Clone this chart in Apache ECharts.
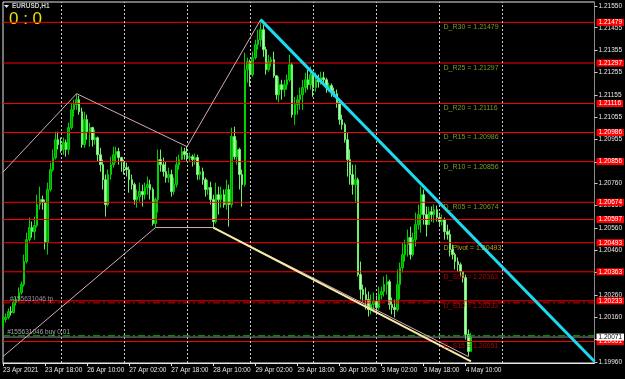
<!DOCTYPE html>
<html><head><meta charset="utf-8">
<script src="https://cdn.jsdelivr.net/npm/echarts@6/dist/echarts.min.js"></script>
<style>html,body{margin:0;padding:0;background:#000;}#c{width:625px;height:379px;}</style>
</head><body><div id="c"></div>
<script>
const symbolName = 'EURUSD,H1';
const scoreText = '0 : 0';
const tickLabels = ['23 Apr 2021','23 Apr 18:00','26 Apr 10:00','27 Apr 02:00','27 Apr 18:00','28 Apr 10:00','29 Apr 02:00','29 Apr 18:00','30 Apr 10:00','3 May 02:00','3 May 18:00','4 May 10:00'];
const labelEvery = 16;
const slotCount = 226;
const dayStartIdx = [22,46,70,94,118,142,166,190];
const priceTicks = [1.21550,1.21455,1.21355,1.21255,1.21155,1.21055,1.20955,1.20855,1.20760,1.20660,1.20560,1.20460,1.20360,1.20260,1.20160,1.20060,1.19960];
// [open, close, low, high]
const ohlc = [
[1.20123,1.20150,1.20114,1.20163],[1.20150,1.20159,1.20136,1.20176],[1.20159,1.20185,1.20150,1.20199],[1.20185,1.20181,1.20167,1.20208],
[1.20181,1.20226,1.20176,1.20243],[1.20226,1.20239,1.20212,1.20252],[1.20239,1.20270,1.20230,1.20293],[1.20270,1.20306,1.20261,1.20319],
[1.20306,1.20409,1.20297,1.20440],[1.20409,1.20507,1.20400,1.20538],[1.20507,1.20561,1.20498,1.20606],[1.20561,1.20543,1.20516,1.20588],
[1.20543,1.20570,1.20507,1.20610],[1.20570,1.20664,1.20561,1.20708],[1.20664,1.20686,1.20641,1.20744],[1.20686,1.20673,1.20641,1.20704],
[1.20673,1.20494,1.20463,1.20686],[1.20494,1.20731,1.20440,1.20762],[1.20731,1.20820,1.20722,1.20851],[1.20820,1.20874,1.20811,1.20910],
[1.20874,1.20954,1.20865,1.20990],[1.20954,1.20932,1.20910,1.20990],[1.20932,1.20910,1.20896,1.20963],[1.20910,1.20941,1.20887,1.20963],
[1.20941,1.20910,1.20878,1.20954],[1.20910,1.21008,1.20887,1.21030],[1.21008,1.21088,1.20999,1.21120],[1.21088,1.21111,1.21057,1.21133],
[1.21111,1.21133,1.21088,1.21160],[1.21133,1.21079,1.21066,1.21151],[1.21079,1.20932,1.20918,1.21097],[1.20932,1.21044,1.20918,1.21079],
[1.21044,1.20990,1.20954,1.21066],[1.20990,1.21008,1.20923,1.21030],[1.21008,1.20954,1.20923,1.21012],[1.20954,1.20963,1.20932,1.20999],
[1.20963,1.20887,1.20856,1.20968],[1.20887,1.20842,1.20811,1.20918],[1.20842,1.20775,1.20731,1.20865],[1.20775,1.20664,1.20610,1.20798],
[1.20664,1.20798,1.20655,1.20820],[1.20798,1.20842,1.20775,1.20878],[1.20842,1.20887,1.20829,1.20923],[1.20887,1.20901,1.20851,1.20923],
[1.20901,1.20874,1.20842,1.20918],[1.20874,1.20856,1.20811,1.20878],[1.20856,1.20829,1.20798,1.20865],[1.20829,1.20820,1.20789,1.20851],
[1.20820,1.20775,1.20717,1.20834],[1.20775,1.20753,1.20731,1.20798],[1.20753,1.20686,1.20664,1.20762],[1.20686,1.20699,1.20650,1.20731],
[1.20699,1.20722,1.20677,1.20762],[1.20722,1.20708,1.20655,1.20753],[1.20708,1.20740,1.20686,1.20762],[1.20740,1.20753,1.20708,1.20789],
[1.20753,1.20731,1.20686,1.20775],[1.20731,1.20579,1.20570,1.20740],[1.20579,1.20686,1.20561,1.20695],[1.20686,1.20865,1.20628,1.20910],
[1.20865,1.20842,1.20811,1.20910],[1.20842,1.20811,1.20789,1.20874],[1.20811,1.20784,1.20762,1.20856],[1.20784,1.20798,1.20762,1.20829],
[1.20798,1.20722,1.20699,1.20820],[1.20722,1.20753,1.20708,1.20784],[1.20753,1.20842,1.20740,1.20878],[1.20842,1.20865,1.20820,1.20887],
[1.20865,1.20901,1.20865,1.20923],[1.20901,1.20887,1.20865,1.20918],[1.20887,1.20874,1.20856,1.20923],[1.20874,1.20878,1.20856,1.20896],
[1.20878,1.20865,1.20834,1.20887],[1.20865,1.20874,1.20842,1.20892],[1.20874,1.20798,1.20775,1.20887],[1.20798,1.20811,1.20775,1.20838],
[1.20811,1.20775,1.20753,1.20829],[1.20775,1.20731,1.20699,1.20784],[1.20731,1.20740,1.20708,1.20775],[1.20740,1.20686,1.20664,1.20766],
[1.20686,1.20588,1.20561,1.20708],[1.20588,1.20708,1.20579,1.20762],[1.20708,1.20686,1.20619,1.20744],[1.20686,1.20708,1.20650,1.20744],
[1.20708,1.20664,1.20650,1.20731],[1.20664,1.20731,1.20641,1.20775],[1.20731,1.20664,1.20565,1.20753],[1.20664,1.20968,1.20650,1.21008],
[1.20968,1.20878,1.20865,1.21012],[1.20878,1.20910,1.20842,1.20954],[1.20910,1.20798,1.20731,1.20918],[1.20798,1.20753,1.20655,1.20820],
[1.20753,1.21267,1.20744,1.21343],[1.21267,1.21303,1.21209,1.21321],[1.21303,1.21245,1.21191,1.21312],[1.21245,1.21321,1.21236,1.21348],
[1.21321,1.21379,1.21312,1.21401],[1.21379,1.21401,1.21357,1.21446],[1.21401,1.21446,1.21370,1.21491],[1.21446,1.21357,1.21325,1.21468],
[1.21357,1.21267,1.21245,1.21370],[1.21267,1.21303,1.21258,1.21334],[1.21303,1.21312,1.21281,1.21325],[1.21312,1.21240,1.21231,1.21348],
[1.21240,1.21155,1.21133,1.21240],[1.21155,1.21200,1.21120,1.21236],[1.21200,1.21178,1.21133,1.21222],[1.21178,1.21200,1.21146,1.21222],
[1.21200,1.21222,1.21178,1.21245],[1.21222,1.21289,1.21213,1.21334],[1.21289,1.21066,1.21053,1.21298],[1.21066,1.21111,1.21021,1.21146],
[1.21111,1.21133,1.21066,1.21155],[1.21133,1.21155,1.21088,1.21187],[1.21155,1.21187,1.21088,1.21222],[1.21187,1.21222,1.21164,1.21254],
[1.21222,1.21200,1.21178,1.21267],[1.21200,1.21245,1.21178,1.21281],[1.21245,1.21187,1.21146,1.21254],[1.21187,1.21222,1.21169,1.21254],
[1.21222,1.21213,1.21187,1.21245],[1.21213,1.21231,1.21200,1.21258],[1.21231,1.21222,1.21196,1.21258],[1.21222,1.21187,1.21164,1.21231],
[1.21187,1.21196,1.21169,1.21209],[1.21196,1.21169,1.21146,1.21205],[1.21169,1.21160,1.21146,1.21187],[1.21160,1.21120,1.21097,1.21178],
[1.21120,1.21044,1.21021,1.21133],[1.21044,1.21021,1.20999,1.21066],[1.21021,1.20954,1.20941,1.21030],[1.20954,1.20865,1.20789,1.20985],
[1.20865,1.20798,1.20753,1.20910],[1.20798,1.20753,1.20708,1.20842],[1.20753,1.20775,1.20673,1.20842],[1.20775,1.20351,1.20342,1.20784],
[1.20351,1.20284,1.20239,1.20409],[1.20284,1.20261,1.20226,1.20306],[1.20261,1.20239,1.20194,1.20293],[1.20239,1.20194,1.20163,1.20275],
[1.20194,1.20217,1.20172,1.20261],[1.20217,1.20230,1.20181,1.20270],[1.20230,1.20203,1.20181,1.20257],[1.20203,1.20261,1.20194,1.20297],
[1.20261,1.20275,1.20239,1.20297],[1.20275,1.20306,1.20252,1.20342],[1.20306,1.20319,1.20261,1.20351],[1.20319,1.20217,1.20194,1.20328],
[1.20217,1.20203,1.20172,1.20248],[1.20203,1.20194,1.20159,1.20239],[1.20194,1.20306,1.20185,1.20373],[1.20306,1.20382,1.20239,1.20404],
[1.20382,1.20440,1.20360,1.20494],[1.20440,1.20485,1.20409,1.20507],[1.20485,1.20516,1.20431,1.20552],[1.20516,1.20440,1.20418,1.20565],
[1.20440,1.20507,1.20431,1.20538],[1.20507,1.20574,1.20476,1.20628],[1.20574,1.20619,1.20552,1.20664],[1.20619,1.20708,1.20538,1.20744],
[1.20708,1.20619,1.20574,1.20731],[1.20619,1.20574,1.20521,1.20655],[1.20574,1.20632,1.20574,1.20655],[1.20632,1.20619,1.20588,1.20655],
[1.20619,1.20641,1.20583,1.20664],[1.20641,1.20606,1.20588,1.20659],[1.20606,1.20588,1.20565,1.20628],[1.20588,1.20597,1.20570,1.20619],
[1.20597,1.20543,1.20507,1.20606],[1.20543,1.20530,1.20507,1.20574],[1.20530,1.20463,1.20431,1.20552],[1.20463,1.20440,1.20418,1.20485],
[1.20440,1.20409,1.20373,1.20449],[1.20409,1.20395,1.20364,1.20427],[1.20395,1.20364,1.20342,1.20404],[1.20364,1.20337,1.20315,1.20364],
[1.20337,1.20083,1.20060,1.20351],[1.20083,1.20007,1.19984,1.20105],[1.20007,1.20071,1.20007,1.20090]
];
const pivotNames = ['D_R30','D_R25','D_R20','D_R15','D_R10','D_R05','D_Pivot','D_S05','D_S10','D_S15'];
const pivotValues = [1.21479,1.21297,1.21116,1.20986,1.20856,1.20674,1.20493,1.20363,1.20233,1.20051];
const pivotKinds = ['R','R','R','R','R','R','P','S','S','S'];
const extraLevel = 1.20597;
const tpLevel = 1.20224;
const openLevel = 1.20077;
const bidLevel = 1.20071;
const orderTpText = '#155631046 tp';
const orderOpenText = '#155631046 buy 0.01';
const trendCyan = [['98',1.21491],['225',1.19962]];
const trendYellow = [['80',1.20561],['178',1.19962]];
const zigzagUpper = [['0',1.20809],['28',1.21160],['70',1.20923],['98',1.21491]];
const zigzagLower = [['0',1.19984],['58',1.20561],['80',1.20561],['177',1.19984]];

const cats = Array.from({length: slotCount}, (_, i) => String(i));
const firstCat = cats[0], lastCat = cats[cats.length - 1];
const chart = echarts.init(document.getElementById('c'), null, {renderer: 'canvas'});
const FONT = 'Liberation Sans';
const isLabelIdx = (i) => i % labelEvery === 0 && (i / labelEvery) < tickLabels.length;
const kindColor = {R: '#93c32c', P: '#dccb1e', S: '#e00000'};

function levelSeries(v, color, type, box, z) {
  const s = {
    type: 'line', z: z || 4, silent: true, clip: false, showSymbol: false, animation: false,
    data: [[firstCat, v], [lastCat, v]],
    lineStyle: {color: color, type: type, width: 1}
  };
  if (box) {
    s.endLabel = {show: true, distance: 2, formatter: v.toFixed(5), backgroundColor: box[0], color: box[1],
      fontSize: 6.5, fontFamily: FONT, padding: [0, 2, 0, 2], lineHeight: 7};
  }
  return s;
}

const levelList = [
  levelSeries(tpLevel, '#e00000', [7, 3, 2, 3], null),
  levelSeries(openLevel, '#00b400', [7, 3, 2, 3], null)
].concat(pivotValues.concat([extraLevel]).map(v => levelSeries(v, '#ff0000', 'solid', ['#ff0000', '#ffffff'])))
 .concat([levelSeries(bidLevel, '#8a8a8a', 'solid', ['#ffffff', '#000000'], 5)]);

chart.setOption({
  backgroundColor: '#000000',
  animation: false,
  grid: {left: 2, right: 30, top: 2, bottom: 16, show: true, borderColor: '#e6e6e6', borderWidth: 1, backgroundColor: 'transparent'},
  xAxis: {
    type: 'category', data: cats, boundaryGap: false,
    axisLine: {show: true, lineStyle: {color: '#e6e6e6'}},
    axisTick: {show: true, interval: (i) => isLabelIdx(i), length: 3, lineStyle: {color: '#e6e6e6'}},
    axisLabel: {show: true, interval: (i) => isLabelIdx(i), formatter: (v, i) => tickLabels[Number(v) / labelEvery],
      align: 'left', color: '#e8e8e8', fontSize: 6.5, fontFamily: FONT, margin: 4},
    splitLine: {show: false}
  },
  yAxis: {
    type: 'value', position: 'right', min: 1.19955, max: 1.21570, scale: true,
    axisLine: {show: true, lineStyle: {color: '#8a8a8a'}},
    axisTick: {show: true, customValues: priceTicks, length: 3, lineStyle: {color: '#d0d0d0'}},
    axisLabel: {show: true, customValues: priceTicks, formatter: (v) => Number(v).toFixed(5), color: '#e8e8e8', fontSize: 6.5, fontFamily: FONT, margin: 4},
    splitLine: {show: false}
  },
  graphic: [
    {type: 'polygon', shape: {points: [[4, 5], [9, 5], [6.5, 8]]}, style: {fill: '#e0e0e0'}},
    {type: 'text', left: 12, top: 3, style: {text: symbolName, fill: '#cfcfcf', font: 'bold 6.5px "Liberation Sans"'}},
    {type: 'text', left: 9, top: 11, style: {text: scoreText, fill: '#f0e000', font: '17px "Liberation Sans"'}}
  ],
  series: [
    {
      type: 'line', data: [], z: 1, silent: true,
      markLine: {silent: true, symbol: ['none', 'none'], label: {show: false},
        lineStyle: {color: '#c8c8c8', type: [2, 2], width: 1},
        data: dayStartIdx.map(i => ({xAxis: String(i)}))}
    },
    {
      type: 'candlestick', z: 3, data: ohlc, barWidth: 2,
      itemStyle: {color: '#009c00', color0: '#b4ffb4', borderColor: '#00d400', borderColor0: '#6ef06e', borderWidth: 1}
    }
  ].concat(levelList).concat([
    {type: 'line', z: 5, data: zigzagUpper, showSymbol: false, silent: true, lineStyle: {color: '#d8a8b8', width: 1}},
    {type: 'line', z: 5, data: zigzagLower, showSymbol: false, silent: true, lineStyle: {color: '#d8a8b8', width: 1}},
    {type: 'line', z: 6, data: trendYellow, showSymbol: false, silent: true, lineStyle: {color: '#f7eaa4', width: 2}},
    {type: 'line', z: 6, data: trendCyan, showSymbol: false, silent: true, lineStyle: {color: '#1cdaf0', width: 3}},
    {
      type: 'scatter', z: 7, symbolSize: 1, silent: true, itemStyle: {color: 'transparent'},
      data: pivotValues.map((v, k) => ({value: ['167', v],
        label: {show: true, position: 'right', distance: 1, offset: [0, 5], color: kindColor[pivotKinds[k]],
          formatter: pivotNames[k] + ' = ' + v.toFixed(5), fontSize: 7, fontFamily: FONT}}))
    },
    {
      type: 'scatter', z: 7, symbolSize: 1, silent: true, itemStyle: {color: 'transparent'},
      data: [
        {value: ['2', tpLevel], label: {show: true, position: 'right', distance: 1, offset: [0, -4], color: '#b4b4cc', formatter: orderTpText, fontSize: 6.5, fontFamily: FONT}},
        {value: ['1', openLevel], label: {show: true, position: 'right', distance: 1, offset: [0, -4], color: '#c8c8c8', formatter: orderOpenText, fontSize: 6.5, fontFamily: FONT}}
      ]
    }
  ])
});
</script></body></html>
